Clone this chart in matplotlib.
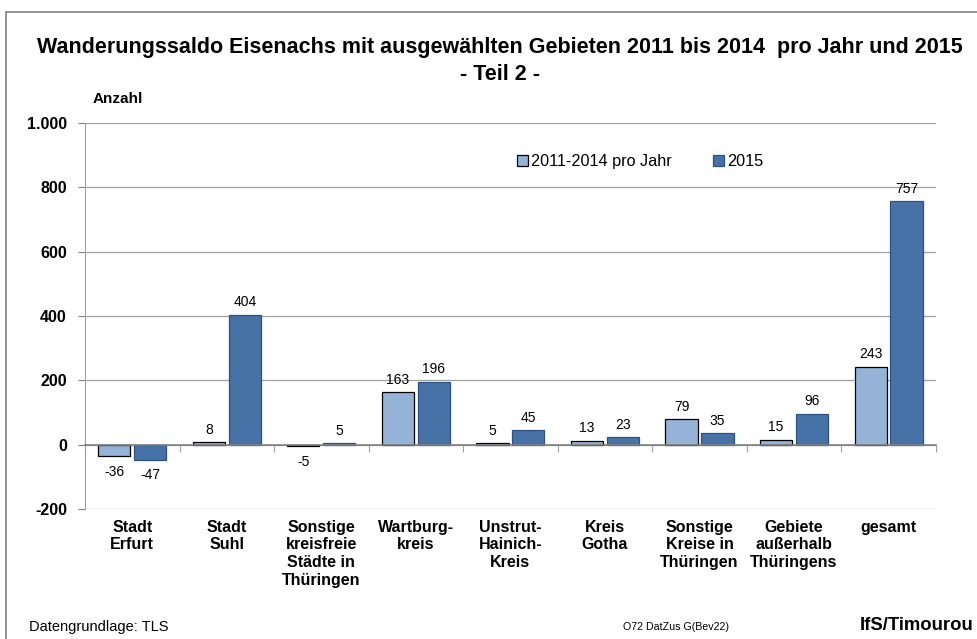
import numpy as np
import matplotlib.pyplot as plt
from matplotlib.patches import Rectangle

plt.rcParams['font.family'] = ['Liberation Sans', 'DejaVu Sans']

kategorien = ["Stadt\nErfurt", "Stadt\nSuhl", "Sonstige\nkreisfreie\nStädte in\nThüringen",
              "Wartburg-\nkreis", "Unstrut-\nHainich-\nKreis", "Kreis\nGotha",
              "Sonstige\nKreise in\nThüringen", "Gebiete\naußerhalb\nThüringens", "gesamt"]
werte_2011_2014 = [-36, 8, -5, 163, 5, 13, 79, 15, 243]
werte_2015 = [-47, 404, 5, 196, 45, 23, 35, 96, 757]
y_ticks = [-200, 0, 200, 400, 600, 800, 1000]
y_labels = ["-200", "0", "200", "400", "600", "800", "1.000"]

hell = "#95B3D7"
dunkel = "#4672A8"

fig = plt.figure(figsize=(9.78, 6.39), dpi=100)
ax = fig.add_axes([0.0869, 0.2034, 0.870, 0.604])

# Rahmen um die Grafik
fig.patches.append(Rectangle((6/978, -0.1), 1.2, 1 - 12/639 + 0.1, transform=fig.transFigure,
                             fill=False, edgecolor="#808080", linewidth=1.2))

x = np.arange(len(kategorien))
b = 0.34
ax.bar(x - 0.19, werte_2011_2014, b, color=hell, edgecolor="black", linewidth=0.9,
       label="2011-2014 pro Jahr", zorder=3)
ax.bar(x + 0.19, werte_2015, b, color=dunkel, edgecolor="#2F5182", linewidth=0.9,
       label="2015", zorder=3)

for xi, v in zip(x - 0.19, werte_2011_2014):
    ax.annotate(str(v), (xi, v), xytext=(0, 4 if v >= 0 else -6), textcoords="offset points",
                ha="center", va="bottom" if v >= 0 else "top", fontsize=10)
for xi, v in zip(x + 0.19, werte_2015):
    ax.annotate(str(v), (xi, v), xytext=(0, 4 if v >= 0 else -6), textcoords="offset points",
                ha="center", va="bottom" if v >= 0 else "top", fontsize=10)

ax.set_xlim(-0.5, len(kategorien) - 0.5)
ax.set_ylim(-200, 1000)
ax.set_yticks(y_ticks)
ax.set_yticklabels(y_labels, fontweight="bold", fontsize=11.5)
ax.yaxis.grid(True, color="#A0A0A0", linewidth=0.9, zorder=0)
ax.tick_params(axis="y", length=5, color="#808080", pad=8)

ax.spines["top"].set_visible(False)
ax.spines["right"].set_visible(False)
ax.spines["left"].set_color("#A0A0A0")
ax.spines["bottom"].set_position(("data", 0))
ax.spines["bottom"].set_color("#808080")
ax.spines["bottom"].set_linewidth(1.2)
ax.spines["bottom"].set_zorder(4)
ax.set_xticks(np.arange(len(kategorien) + 1) - 0.5)
ax.set_xticklabels([])
ax.tick_params(axis="x", length=5, color="#A0A0A0")

for xi, k in zip(x, kategorien):
    ax.text(xi, -0.028, k, transform=ax.get_xaxis_transform(), ha="center", va="top",
            fontsize=11.5, fontweight="bold", linespacing=1.22)

ax.text(0.009, 1.045, "Anzahl", transform=ax.transAxes, fontsize=11, fontweight="bold",
        ha="left", va="bottom")

leg = ax.legend(loc="upper left", bbox_to_anchor=(0.49, 0.958), ncol=2, frameon=False,
                fontsize=11.7, handlelength=0.7, handleheight=0.7, handletextpad=0.2,
                columnspacing=2.5)

fig.text(500/978, 1 - 61/639, "Wanderungssaldo Eisenachs mit ausgewählten Gebieten 2011 bis 2014  pro Jahr und 2015\n- Teil 2 -",
         ha="center", va="center", fontsize=15.5, fontweight="bold", linespacing=1.35)

fig.text(29/978, 1 - 627/639, "Datengrundlage: TLS", fontsize=10.5, va="center", ha="left")
fig.text(623/978, 1 - 627/639, "O72 DatZus G(Bev22)", fontsize=7.7, va="center", ha="left")
fig.text(974/978, 1 - 625/639, "IfS/Timourou", fontsize=13.3, fontweight="bold", va="center", ha="right")

fig.savefig("out.png", dpi=100)
